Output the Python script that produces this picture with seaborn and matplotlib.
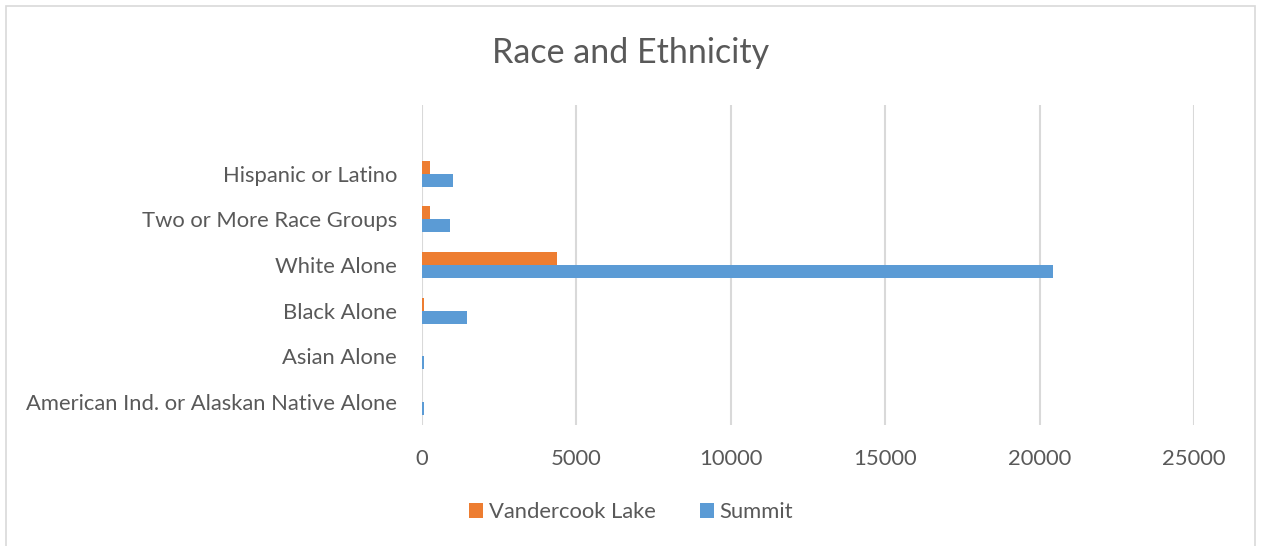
import matplotlib
matplotlib.use("Agg")
import matplotlib.pyplot as plt
import seaborn as sns
import pandas as pd
from matplotlib.patches import Rectangle

# data
categories = [
    "Hispanic or Latino",
    "Two or More Race Groups",
    "White Alone",
    "Black Alone",
    "Asian Alone",
    "American Ind. or Alaskan Native Alone",
]
vandercook_lake = [270, 265, 4380, 75, 5, 5]
summit = [990, 915, 20440, 1465, 60, 60]
series_names = ["Vandercook Lake", "Summit"]
x_ticks = [0, 5000, 10000, 15000, 20000, 25000]

df = pd.DataFrame({
    "category": categories * 2,
    "value": vandercook_lake + summit,
    "series": [series_names[0]] * len(categories) + [series_names[1]] * len(categories),
})

sns.set_style("white")
plt.rcParams["font.family"] = ["Lato", "DejaVu Sans"]
TEXT = "#595959"

fig = plt.figure(figsize=(12.62, 5.46), dpi=100)
ax = fig.add_axes([422 / 1262, 1 - 425 / 546, (1194 - 422) / 1262, (425 - 105) / 546])

sns.barplot(
    data=df, y="category", x="value", hue="series",
    order=categories, hue_order=series_names,
    palette=["#ED7D31", "#5B9BD5"], orient="h",
    width=0.57, saturation=1, linewidth=0, ax=ax,
)

ax.set_xlim(0, 25000)
ax.set_ylim(5.5, -1.5)
ax.set_xticks(x_ticks)
ax.set_xticklabels([str(t) for t in x_ticks])
ax.xaxis.grid(True, color="#D9D9D9", linewidth=1.5)
ax.yaxis.grid(False)
ax.set_axisbelow(True)
for s in ax.spines.values():
    s.set_visible(False)
ax.tick_params(axis="both", length=0, labelsize=15.8, labelcolor=TEXT)
ax.tick_params(axis="y", pad=18)
ax.tick_params(axis="x", pad=17)
ax.set_xlabel("")
ax.set_ylabel("")

handles, labels = ax.get_legend_handles_labels()
ax.legend_.remove()
fig.legend(handles, labels, loc="center", bbox_to_anchor=(0.5, 1 - 512 / 546),
           ncol=2, frameon=False, fontsize=15.8, labelcolor=TEXT,
           handlelength=0.65, handleheight=0.65, handletextpad=0.25, columnspacing=2.0)

fig.text(0.5, 1 - 53 / 546, "Race and Ethnicity", ha="center", va="center",
         fontsize=24.5, color=TEXT)

# light chart-area border
fig.patches.append(Rectangle((6 / 1262, -0.05), 1249 / 1262, 1.05 - 6 / 546,
                             transform=fig.transFigure, fill=False,
                             edgecolor="#D9D9D9", linewidth=1.2))

fig.savefig("out.png", dpi=100)
